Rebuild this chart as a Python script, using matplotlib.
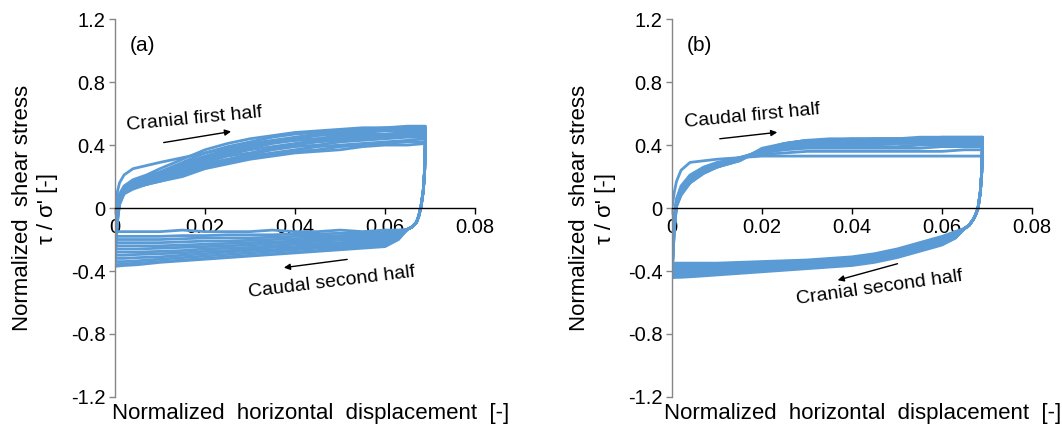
import numpy as np
import matplotlib
matplotlib.use("Agg")
import matplotlib.pyplot as plt

plt.rcParams['font.family'] = ['Liberation Sans', 'DejaVu Sans']

LINE_COLOR = '#5B9BD5'

# x positions (normalized displacement) at which the loop values were read
UP_X = [0, 0.0005, 0.001, 0.002, 0.004, 0.007, 0.010, 0.015, 0.020, 0.025,
        0.030, 0.035, 0.040, 0.045, 0.050, 0.055, 0.060, 0.065, 0.069]
DROP_X = [0.0688, 0.0685, 0.068, 0.0675, 0.067, 0.066, 0.065]
BACK_X = [0.063, 0.060, 0.055, 0.050, 0.045, 0.040, 0.035, 0.030, 0.025,
          0.020, 0.015, 0.010, 0.005, 0.002, 0.0]

# ---- panel (a): cranial first half / caudal second half ----
a_up = [
    [0.00, 0.10, 0.16, 0.21, 0.25, 0.27, 0.29, 0.32, 0.35, 0.38, 0.40, 0.42, 0.43, 0.44, 0.45, 0.46, 0.46, 0.47, 0.48],
    [-0.15, 0.02, 0.09, 0.14, 0.18, 0.21, 0.25, 0.31, 0.37, 0.41, 0.44, 0.46, 0.48, 0.49, 0.50, 0.51, 0.51, 0.52, 0.52],
    [-0.18, 0.00, 0.08, 0.13, 0.17, 0.20, 0.23, 0.29, 0.35, 0.39, 0.42, 0.45, 0.47, 0.48, 0.49, 0.50, 0.51, 0.51, 0.51],
    [-0.20, -0.01, 0.07, 0.12, 0.16, 0.19, 0.22, 0.28, 0.33, 0.37, 0.41, 0.43, 0.45, 0.47, 0.48, 0.49, 0.50, 0.50, 0.50],
    [-0.22, -0.03, 0.06, 0.12, 0.15, 0.18, 0.21, 0.27, 0.32, 0.36, 0.39, 0.42, 0.44, 0.46, 0.47, 0.48, 0.49, 0.49, 0.49],
    [-0.24, -0.04, 0.05, 0.11, 0.15, 0.17, 0.20, 0.26, 0.31, 0.35, 0.38, 0.41, 0.43, 0.44, 0.46, 0.47, 0.47, 0.48, 0.48],
    [-0.26, -0.05, 0.05, 0.11, 0.14, 0.17, 0.19, 0.25, 0.30, 0.34, 0.37, 0.39, 0.41, 0.43, 0.44, 0.45, 0.46, 0.47, 0.47],
    [-0.28, -0.06, 0.04, 0.10, 0.14, 0.16, 0.19, 0.24, 0.29, 0.33, 0.35, 0.38, 0.40, 0.42, 0.43, 0.44, 0.45, 0.46, 0.46],
    [-0.30, -0.07, 0.04, 0.10, 0.13, 0.16, 0.18, 0.23, 0.28, 0.31, 0.34, 0.37, 0.39, 0.40, 0.42, 0.43, 0.44, 0.45, 0.45],
    [-0.32, -0.08, 0.03, 0.10, 0.13, 0.15, 0.18, 0.22, 0.27, 0.30, 0.33, 0.35, 0.37, 0.39, 0.40, 0.41, 0.42, 0.43, 0.44],
    [-0.34, -0.09, 0.03, 0.09, 0.13, 0.15, 0.17, 0.21, 0.26, 0.29, 0.32, 0.34, 0.36, 0.37, 0.39, 0.40, 0.41, 0.42, 0.42],
    [-0.36, -0.10, 0.02, 0.09, 0.12, 0.15, 0.17, 0.20, 0.25, 0.28, 0.31, 0.33, 0.35, 0.36, 0.37, 0.39, 0.40, 0.40, 0.41],
]
a_drop = [0.24, 0.11, 0.01, -0.05, -0.09, -0.12, -0.135]
a_back = [
    [-0.14, -0.14, -0.15, -0.14, -0.15, -0.15, -0.14, -0.15, -0.15, -0.15, -0.14, -0.15, -0.15, -0.15, -0.15],
    [-0.15, -0.155, -0.16, -0.16, -0.165, -0.165, -0.17, -0.17, -0.17, -0.175, -0.175, -0.18, -0.18, -0.18, -0.18],
    [-0.15, -0.165, -0.17, -0.175, -0.18, -0.18, -0.185, -0.19, -0.19, -0.19, -0.195, -0.20, -0.20, -0.20, -0.20],
    [-0.16, -0.17, -0.18, -0.185, -0.19, -0.195, -0.20, -0.205, -0.21, -0.21, -0.215, -0.22, -0.22, -0.22, -0.22],
    [-0.16, -0.18, -0.19, -0.195, -0.20, -0.21, -0.215, -0.22, -0.225, -0.23, -0.235, -0.24, -0.24, -0.24, -0.24],
    [-0.17, -0.19, -0.20, -0.205, -0.21, -0.22, -0.225, -0.235, -0.24, -0.245, -0.25, -0.255, -0.26, -0.26, -0.26],
    [-0.17, -0.20, -0.21, -0.22, -0.225, -0.23, -0.24, -0.25, -0.255, -0.26, -0.27, -0.275, -0.28, -0.28, -0.28],
    [-0.18, -0.21, -0.22, -0.23, -0.235, -0.245, -0.25, -0.26, -0.27, -0.275, -0.285, -0.29, -0.295, -0.30, -0.30],
    [-0.18, -0.22, -0.23, -0.24, -0.245, -0.255, -0.265, -0.27, -0.28, -0.29, -0.30, -0.31, -0.315, -0.32, -0.32],
    [-0.19, -0.23, -0.24, -0.25, -0.255, -0.265, -0.275, -0.285, -0.295, -0.305, -0.315, -0.325, -0.335, -0.34, -0.34],
    [-0.19, -0.24, -0.25, -0.26, -0.27, -0.28, -0.29, -0.30, -0.31, -0.32, -0.33, -0.34, -0.35, -0.355, -0.36],
    [-0.20, -0.245, -0.255, -0.265, -0.275, -0.285, -0.295, -0.305, -0.315, -0.325, -0.335, -0.345, -0.36, -0.365, -0.37],
]

# ---- panel (b): caudal first half / cranial second half ----
b_up = [
    [0.00, 0.10, 0.17, 0.24, 0.29, 0.30, 0.31, 0.32, 0.33, 0.33, 0.33, 0.33, 0.33, 0.33, 0.33, 0.33, 0.33, 0.33, 0.33],
    [-0.35, -0.05, 0.06, 0.14, 0.21, 0.26, 0.29, 0.32, 0.34, 0.35, 0.36, 0.36, 0.36, 0.36, 0.36, 0.36, 0.36, 0.37, 0.37],
    [-0.36, -0.06, 0.05, 0.13, 0.20, 0.25, 0.28, 0.32, 0.35, 0.37, 0.38, 0.38, 0.38, 0.38, 0.38, 0.38, 0.39, 0.39, 0.39],
    [-0.37, -0.07, 0.05, 0.12, 0.19, 0.25, 0.28, 0.32, 0.36, 0.38, 0.39, 0.39, 0.39, 0.39, 0.39, 0.40, 0.40, 0.40, 0.40],
    [-0.38, -0.08, 0.04, 0.12, 0.19, 0.24, 0.27, 0.32, 0.36, 0.38, 0.40, 0.40, 0.40, 0.40, 0.41, 0.41, 0.41, 0.41, 0.41],
    [-0.39, -0.09, 0.04, 0.11, 0.18, 0.24, 0.27, 0.31, 0.36, 0.39, 0.40, 0.41, 0.41, 0.41, 0.41, 0.42, 0.42, 0.42, 0.42],
    [-0.40, -0.10, 0.03, 0.11, 0.18, 0.24, 0.27, 0.31, 0.36, 0.39, 0.41, 0.41, 0.42, 0.42, 0.42, 0.42, 0.43, 0.43, 0.43],
    [-0.41, -0.11, 0.03, 0.10, 0.17, 0.23, 0.27, 0.31, 0.37, 0.40, 0.42, 0.42, 0.42, 0.42, 0.43, 0.43, 0.43, 0.43, 0.43],
    [-0.42, -0.12, 0.02, 0.10, 0.17, 0.23, 0.26, 0.31, 0.37, 0.40, 0.42, 0.43, 0.43, 0.43, 0.43, 0.43, 0.44, 0.44, 0.44],
    [-0.43, -0.13, 0.02, 0.09, 0.16, 0.23, 0.26, 0.31, 0.37, 0.41, 0.43, 0.43, 0.43, 0.44, 0.44, 0.44, 0.44, 0.44, 0.45],
    [-0.43, -0.13, 0.01, 0.09, 0.16, 0.22, 0.26, 0.30, 0.37, 0.41, 0.43, 0.43, 0.44, 0.44, 0.44, 0.44, 0.45, 0.45, 0.45],
    [-0.44, -0.14, 0.01, 0.08, 0.16, 0.22, 0.26, 0.30, 0.38, 0.41, 0.43, 0.44, 0.44, 0.44, 0.44, 0.45, 0.45, 0.45, 0.45],
]
b_drop = [0.22, 0.10, 0.0, -0.04, -0.07, -0.11, -0.13]
b_back = [
    [-0.15, -0.18, -0.22, -0.26, -0.29, -0.31, -0.32, -0.33, -0.335, -0.34, -0.345, -0.35, -0.35, -0.35, -0.35],
    [-0.15, -0.185, -0.225, -0.265, -0.295, -0.315, -0.325, -0.335, -0.34, -0.345, -0.35, -0.355, -0.36, -0.36, -0.36],
    [-0.16, -0.19, -0.23, -0.27, -0.30, -0.32, -0.33, -0.34, -0.35, -0.355, -0.36, -0.365, -0.37, -0.37, -0.37],
    [-0.16, -0.195, -0.235, -0.275, -0.305, -0.325, -0.335, -0.345, -0.355, -0.36, -0.365, -0.37, -0.375, -0.38, -0.38],
    [-0.17, -0.20, -0.24, -0.28, -0.31, -0.33, -0.34, -0.35, -0.36, -0.37, -0.375, -0.38, -0.385, -0.39, -0.39],
    [-0.17, -0.205, -0.245, -0.285, -0.315, -0.335, -0.345, -0.355, -0.365, -0.375, -0.385, -0.39, -0.395, -0.40, -0.40],
    [-0.175, -0.21, -0.25, -0.29, -0.32, -0.34, -0.35, -0.36, -0.37, -0.38, -0.39, -0.40, -0.405, -0.41, -0.41],
    [-0.18, -0.215, -0.255, -0.295, -0.325, -0.345, -0.355, -0.365, -0.375, -0.385, -0.395, -0.405, -0.415, -0.42, -0.42],
    [-0.18, -0.22, -0.26, -0.30, -0.33, -0.35, -0.36, -0.37, -0.38, -0.39, -0.40, -0.41, -0.42, -0.425, -0.43],
    [-0.185, -0.225, -0.265, -0.305, -0.335, -0.355, -0.365, -0.375, -0.385, -0.395, -0.405, -0.415, -0.425, -0.43, -0.43],
    [-0.19, -0.23, -0.27, -0.31, -0.34, -0.36, -0.37, -0.38, -0.39, -0.40, -0.41, -0.42, -0.43, -0.435, -0.44],
    [-0.19, -0.235, -0.275, -0.315, -0.345, -0.365, -0.375, -0.385, -0.395, -0.405, -0.415, -0.425, -0.435, -0.44, -0.44],
]

Y_TICKS = [-1.2, -0.8, -0.4, 0, 0.4, 0.8, 1.2]
Y_LABELS = ['-1.2', '-0.8', '-0.4', '0', '0.4', '0.8', '1.2']
X_TICKS = [0, 0.02, 0.04, 0.06, 0.08]
X_LABELS = ['0', '0.02', '0.04', '0.06', '0.08']


def setup_axes(ax, tag, xlabel_x):
    ax.set_xlim(0, 0.08)
    ax.set_ylim(-1.2, 1.2)
    ax.spines['top'].set_visible(False)
    ax.spines['right'].set_visible(False)
    ax.spines['bottom'].set_position(('data', 0))
    ax.spines['bottom'].set_color('black')
    ax.spines['bottom'].set_linewidth(1.0)
    ax.spines['left'].set_color('#868686')
    ax.spines['left'].set_linewidth(1.0)
    ax.set_yticks(Y_TICKS)
    ax.set_yticklabels(Y_LABELS)
    ax.set_xticks(X_TICKS)
    ax.set_xticklabels(X_LABELS)
    ax.tick_params(axis='y', direction='out', length=4, width=1, color='#868686',
                   labelsize=14.5, pad=3)
    ax.tick_params(axis='x', direction='out', length=4, width=1, color='black',
                   labelsize=14.5, pad=3)
    ax.text(xlabel_x, -0.015, 'Normalized  horizontal  displacement  [-]',
            transform=ax.transAxes, ha='center', va='top', fontsize=16)
    ax.text(-0.222, 0.5, 'Normalized  shear stress\n\u03c4 / \u03c3\' [-]',
            transform=ax.transAxes, ha='center', va='center', rotation=90,
            fontsize=16, linespacing=1.3, multialignment='center')
    ax.text(0.04, 0.93, tag, transform=ax.transAxes, ha='left', va='center',
            fontsize=15)


def draw_loops(ax, ups, drop, backs):
    for up, back in zip(ups, backs):
        xs = UP_X + DROP_X + BACK_X
        ys = up + drop + back
        ax.plot(xs, ys, color=LINE_COLOR, lw=2.0, solid_joinstyle='round')


fig = plt.figure(figsize=(10.62, 4.25), dpi=100)
ax_a = fig.add_axes([0.1083, 0.066, 0.339, 0.889])
ax_b = fig.add_axes([0.6328, 0.066, 0.339, 0.889])

draw_loops(ax_a, a_up, a_drop, a_back)
draw_loops(ax_b, b_up, b_drop, b_back)
setup_axes(ax_a, '(a)', 0.542)
setup_axes(ax_b, '(b)', 0.53)

arrow = dict(arrowstyle='-|>', color='black', lw=1.0, mutation_scale=9)

ax_a.annotate('', xy=(0.0264, 0.489), xytext=(0.0102, 0.413), arrowprops=arrow)
ax_a.text(0.0176, 0.565, 'Cranial first half', ha='center', va='center',
          rotation=5.5, fontsize=14)
ax_a.annotate('', xy=(0.0369, -0.381), xytext=(0.0522, -0.324), arrowprops=arrow)
ax_a.text(0.0482, -0.47, 'Caudal second half', ha='center', va='center',
          rotation=7, fontsize=14)

ax_b.annotate('', xy=(0.024, 0.483), xytext=(0.010, 0.438), arrowprops=arrow)
ax_b.text(0.0178, 0.584, 'Caudal first half', ha='center', va='center',
          rotation=5.5, fontsize=14)
ax_b.annotate('', xy=(0.0362, -0.463), xytext=(0.0507, -0.349), arrowprops=arrow)
ax_b.text(0.0460, -0.508, 'Cranial second half', ha='center', va='center',
          rotation=8, fontsize=14)

fig.savefig('out.png', dpi=100)
